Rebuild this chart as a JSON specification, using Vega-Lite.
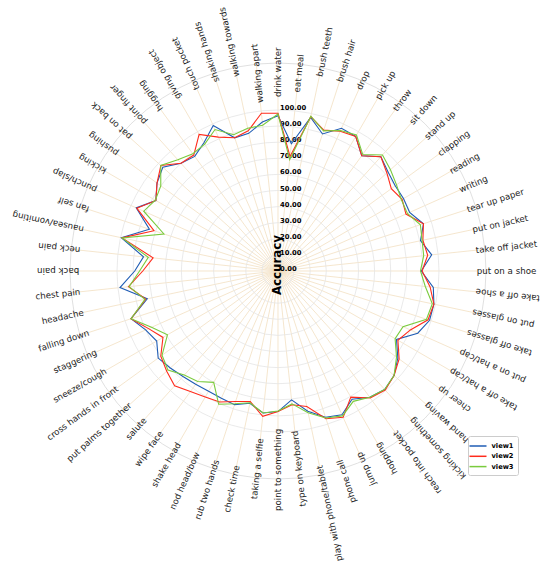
{
  "$schema": "https://vega.github.io/schema/vega-lite/v6.json",
  "description": "Per-action accuracy radar, three views",
  "width": 416,
  "height": 416,
  "autosize": {"type": "none"},
  "padding": {"left": 70, "top": 63, "right": 64, "bottom": 97},
  "background": "white",
  "config": {"view": {"stroke": null}, "font": "DejaVu Sans"},
  "datasets": {
    "acc": [
      {"action": "drink water", "view1": 96.5, "view2": 98.0, "view3": 97.5},
      {"action": "eat meal", "view1": 79.5, "view2": 71.5, "view3": 69.5},
      {"action": "brush teeth", "view1": 97.5, "view2": 98.0, "view3": 98.3},
      {"action": "brush hair", "view1": 89.5, "view2": 92.0, "view3": 91.5},
      {"action": "drop", "view1": 97.0, "view2": 95.0, "view3": 95.5},
      {"action": "pick up", "view1": 96.5, "view2": 96.5, "view3": 97.5},
      {"action": "throw", "view1": 88.5, "view2": 88.5, "view3": 89.5},
      {"action": "sit down", "view1": 95.5, "view2": 95.5, "view3": 97.0},
      {"action": "stand up", "view1": 92.0, "view2": 91.0, "view3": 94.0},
      {"action": "clapping", "view1": 90.0, "view2": 87.0, "view3": 91.0},
      {"action": "reading", "view1": 90.0, "view2": 89.0, "view3": 88.5},
      {"action": "writing", "view1": 89.5, "view2": 87.0, "view3": 88.0},
      {"action": "tear up paper", "view1": 95.0, "view2": 95.0, "view3": 93.0},
      {"action": "put on jacket", "view1": 90.5, "view2": 92.0, "view3": 91.5},
      {"action": "take off jacket", "view1": 96.0, "view2": 93.5, "view3": 91.0},
      {"action": "put on a shoe", "view1": 89.0, "view2": 89.5, "view3": 88.5},
      {"action": "take off a shoe", "view1": 97.0, "view2": 95.0, "view3": 92.0},
      {"action": "put on glasses", "view1": 99.0, "view2": 99.0, "view3": 98.0},
      {"action": "take off glasses", "view1": 99.0, "view2": 98.0, "view3": 97.0},
      {"action": "put on a hat/cap", "view1": 95.0, "view2": 90.0, "view3": 85.0},
      {"action": "take off a hat/cap", "view1": 85.0, "view2": 86.0, "view3": 84.0},
      {"action": "cheer up", "view1": 92.0, "view2": 93.0, "view3": 91.0},
      {"action": "hand waving", "view1": 97.0, "view2": 97.0, "view3": 97.0},
      {"action": "kicking something", "view1": 99.0, "view2": 99.5, "view3": 99.0},
      {"action": "reach into pocket", "view1": 97.0, "view2": 97.5, "view3": 97.0},
      {"action": "hopping", "view1": 92.0, "view2": 90.5, "view3": 93.5},
      {"action": "jump up", "view1": 97.7, "view2": 99.5, "view3": 98.5},
      {"action": "phone call", "view1": 95.5, "view2": 96.5, "view3": 96.0},
      {"action": "play with phone/tablet", "view1": 89.0, "view2": 86.0, "view3": 90.0},
      {"action": "type on keyboard", "view1": 80.5, "view2": 83.5, "view3": 83.0},
      {"action": "point to something", "view1": 87.3, "view2": 87.3, "view3": 87.0},
      {"action": "taking a selfie", "view1": 88.7, "view2": 90.8, "view3": 88.7},
      {"action": "check time", "view1": 84.0, "view2": 82.9, "view3": 83.7},
      {"action": "rub two hands", "view1": 87.3, "view2": 85.2, "view3": 86.7},
      {"action": "nod head/bow", "view1": 86.5, "view2": 89.1, "view3": 90.6},
      {"action": "shake head", "view1": 86.2, "view2": 90.4, "view3": 79.9},
      {"action": "wipe face", "view1": 87.0, "view2": 92.6, "view3": 84.8},
      {"action": "salute", "view1": 88.2, "view2": 96.0, "view3": 87.0},
      {"action": "put palms together", "view1": 90.0, "view2": 93.0, "view3": 92.0},
      {"action": "cross hands in front", "view1": 92.0, "view2": 90.0, "view3": 89.0},
      {"action": "sneeze/cough", "view1": 87.0, "view2": 82.5, "view3": 79.3},
      {"action": "staggering", "view1": 90.0, "view2": 88.0, "view3": 86.0},
      {"action": "falling down", "view1": 96.0, "view2": 96.0, "view3": 96.0},
      {"action": "headache", "view1": 83.0, "view2": 84.0, "view3": 84.5},
      {"action": "chest pain", "view1": 98.7, "view2": 93.4, "view3": 93.0},
      {"action": "back pain", "view1": 89.0, "view2": 84.0, "view3": 86.0},
      {"action": "neck pain", "view1": 84.0, "view2": 78.0, "view3": 81.0},
      {"action": "nausea/vomiting", "view1": 99.5, "view2": 99.0, "view3": 99.0},
      {"action": "fan self", "view1": 84.0, "view2": 81.0, "view3": 74.5},
      {"action": "punch/slap", "view1": 96.4, "view2": 96.0, "view3": 91.3},
      {"action": "kicking", "view1": 87.6, "view2": 87.6, "view3": 88.0},
      {"action": "pushing", "view1": 92.9, "view2": 92.9, "view3": 90.0},
      {"action": "pat on back", "view1": 96.3, "view2": 97.9, "view3": 98.0},
      {"action": "point finger", "view1": 90.0, "view2": 90.0, "view3": 93.0},
      {"action": "hugging", "view1": 88.0, "view2": 89.0, "view3": 90.0},
      {"action": "giving object", "view1": 92.0, "view2": 98.0, "view3": 91.0},
      {"action": "touch pocket", "view1": 98.9, "view2": 91.0, "view3": 96.2},
      {"action": "shaking hands", "view1": 87.0, "view2": 87.0, "view3": 89.0},
      {"action": "walking towards", "view1": 87.4, "view2": 89.0, "view3": 90.6},
      {"action": "walking apart", "view1": 93.0, "view2": 98.5, "view3": 91.0}
    ],
    "ticks": [
      {"r": 0}, {"r": 10}, {"r": 20}, {"r": 30}, {"r": 40}, {"r": 50},
      {"r": 60}, {"r": 70}, {"r": 80}, {"r": 90}, {"r": 100}
    ]
  },
  "layer": [
    {
      "data": {"name": "acc"},
      "transform": [
        {"window": [{"op": "row_number", "as": "idx"}]},
        {"calculate": "(datum.idx - 1) * 2 * PI / 60", "as": "th"},
        {"calculate": "129.2 * sin(datum.th)", "as": "sx"},
        {"calculate": "129.2 * cos(datum.th)", "as": "sy"}
      ],
      "mark": {"type": "rule", "color": "#f0dbb9", "strokeWidth": 0.7},
      "encoding": {
        "x": {"field": "sx", "type": "quantitative", "scale": {"domain": [-129.2, 129.2], "nice": false, "zero": false}, "axis": null},
        "y": {"field": "sy", "type": "quantitative", "scale": {"domain": [-129.2, 129.2], "nice": false, "zero": false}, "axis": null},
        "x2": {"datum": 0},
        "y2": {"datum": 0}
      }
    },
    {
      "data": {"name": "ticks"},
      "transform": [{"filter": "datum.r > 0"}],
      "mark": {"type": "point", "shape": "circle", "filled": false, "stroke": "#e4e4e4", "strokeWidth": 0.8, "opacity": 1},
      "encoding": {
        "x": {"datum": 0, "type": "quantitative", "scale": {"domain": [-129.2, 129.2], "nice": false, "zero": false}, "axis": null},
        "y": {"datum": 0, "type": "quantitative", "scale": {"domain": [-129.2, 129.2], "nice": false, "zero": false}, "axis": null},
        "size": {"field": "r", "type": "quantitative", "scale": {"type": "pow", "exponent": 2, "domain": [0, 129.2], "range": [0, 173056], "zero": true}, "legend": null}
      }
    },
    {
      "data": {"values": [{"edge": 129.2}]},
      "mark": {"type": "point", "shape": "circle", "filled": false, "stroke": "#dcdcdc", "strokeWidth": 0.9, "opacity": 1},
      "encoding": {
        "x": {"datum": 0, "type": "quantitative", "scale": {"domain": [-129.2, 129.2], "nice": false, "zero": false}, "axis": null},
        "y": {"datum": 0, "type": "quantitative", "scale": {"domain": [-129.2, 129.2], "nice": false, "zero": false}, "axis": null},
        "size": {"field": "edge", "type": "quantitative", "scale": {"type": "pow", "exponent": 2, "domain": [0, 129.2], "range": [0, 173056], "zero": true}, "legend": null}
      }
    },
    {
      "data": {"name": "ticks"},
      "mark": {"type": "text", "align": "left", "baseline": "middle", "dx": 2, "dy": -2, "font": "DejaVu Sans", "fontWeight": "bold", "fontSize": 6.8, "color": "#000000"},
      "encoding": {
        "x": {"datum": 0, "type": "quantitative", "scale": {"domain": [-129.2, 129.2], "nice": false, "zero": false}, "axis": null},
        "y": {"field": "r", "type": "quantitative", "scale": {"domain": [-129.2, 129.2], "nice": false, "zero": false}, "axis": null},
        "text": {"field": "r", "type": "quantitative", "format": ".2f"}
      }
    },
    {
      "data": {"values": [{"label": "Accuracy"}]},
      "mark": {"type": "text", "align": "center", "baseline": "middle", "angle": 270, "font": "DejaVu Sans", "fontWeight": "bold", "fontSize": 11.8, "color": "#000000"},
      "encoding": {
        "x": {"datum": -0.6, "type": "quantitative", "scale": {"domain": [-129.2, 129.2], "nice": false, "zero": false}, "axis": null},
        "y": {"datum": 3.7, "type": "quantitative", "scale": {"domain": [-129.2, 129.2], "nice": false, "zero": false}, "axis": null},
        "text": {"field": "label", "type": "nominal"}
      }
    },
    {
      "data": {"name": "acc"},
      "transform": [
        {"window": [{"op": "row_number", "as": "idx"}]},
        {"calculate": "(datum.idx - 1) * 2 * PI / 60", "as": "th"},
        {"fold": ["view1", "view2", "view3"], "as": ["view", "acc"]},
        {"calculate": "datum.acc * sin(datum.th)", "as": "px"},
        {"calculate": "datum.acc * cos(datum.th)", "as": "py"}
      ],
      "mark": {"type": "line", "interpolate": "linear-closed", "strokeWidth": 1.1},
      "encoding": {
        "x": {"field": "px", "type": "quantitative", "scale": {"domain": [-129.2, 129.2], "nice": false, "zero": false}, "axis": null},
        "y": {"field": "py", "type": "quantitative", "scale": {"domain": [-129.2, 129.2], "nice": false, "zero": false}, "axis": null},
        "order": {"field": "idx", "type": "quantitative"},
        "color": {
          "field": "view",
          "type": "nominal",
          "scale": {"domain": ["view1", "view2", "view3"], "range": ["#1f5cb4", "#ff2b1c", "#7acb3e"]},
          "legend": {
            "title": null,
            "orient": "none",
            "legendX": 398,
            "legendY": 373,
            "symbolType": "M-1.7,0H1.7",
            "symbolSize": 100,
            "symbolStrokeWidth": 1.5,
            "labelFont": "DejaVu Sans",
            "labelFontWeight": "bold",
            "labelFontSize": 6.7,
            "labelColor": "#000000",
            "labelOffset": 7.5,
            "rowPadding": 0.3,
            "padding": 4,
            "strokeColor": "#cccccc",
            "fillColor": "rgba(255,255,255,0.85)",
            "cornerRadius": 2
          }
        }
      }
    },
    {
      "data": {"name": "acc"},
      "transform": [
        {"window": [{"op": "row_number", "as": "idx"}]},
        {"calculate": "datum.idx - 1", "as": "k"},
        {"filter": "datum.k == 0 || datum.k == 1 || datum.k == 59 || datum.k == 29 || datum.k == 30 || datum.k == 31"},
        {"calculate": "datum.k * 2 * PI / 60", "as": "th"},
        {"calculate": "123.5 * sin(datum.th)", "as": "lx"},
        {"calculate": "123.5 * cos(datum.th)", "as": "ly"},
        {"calculate": "(datum.k <= 15 || datum.k >= 45) ? datum.k * 6 - 90 : datum.k * 6 + 90", "as": "rot"}
      ],
      "mark": {"type": "text", "align": "center", "baseline": "middle", "font": "DejaVu Sans", "fontSize": 8.7, "color": "#222222"},
      "encoding": {
        "x": {"field": "lx", "type": "quantitative", "scale": {"domain": [-129.2, 129.2], "nice": false, "zero": false}, "axis": null},
        "y": {"field": "ly", "type": "quantitative", "scale": {"domain": [-129.2, 129.2], "nice": false, "zero": false}, "axis": null},
        "angle": {"field": "rot", "type": "quantitative", "scale": null},
        "text": {"field": "action", "type": "nominal"}
      }
    },
    {
      "data": {"name": "acc"},
      "transform": [
        {"window": [{"op": "row_number", "as": "idx"}]},
        {"calculate": "datum.idx - 1", "as": "k"},
        {"filter": "!(datum.k == 0 || datum.k == 1 || datum.k == 59 || datum.k == 29 || datum.k == 30 || datum.k == 31) && (datum.k <= 15 || datum.k >= 45)"},
        {"calculate": "datum.k * 2 * PI / 60", "as": "th"},
        {"calculate": "123.5 * sin(datum.th)", "as": "lx"},
        {"calculate": "123.5 * cos(datum.th)", "as": "ly"},
        {"calculate": "datum.k * 6 - 90", "as": "rot"}
      ],
      "mark": {"type": "text", "align": "left", "baseline": "middle", "font": "DejaVu Sans", "fontSize": 8.7, "color": "#222222"},
      "encoding": {
        "x": {"field": "lx", "type": "quantitative", "scale": {"domain": [-129.2, 129.2], "nice": false, "zero": false}, "axis": null},
        "y": {"field": "ly", "type": "quantitative", "scale": {"domain": [-129.2, 129.2], "nice": false, "zero": false}, "axis": null},
        "angle": {"field": "rot", "type": "quantitative", "scale": null},
        "text": {"field": "action", "type": "nominal"}
      }
    },
    {
      "data": {"name": "acc"},
      "transform": [
        {"window": [{"op": "row_number", "as": "idx"}]},
        {"calculate": "datum.idx - 1", "as": "k"},
        {"filter": "!(datum.k == 0 || datum.k == 1 || datum.k == 59 || datum.k == 29 || datum.k == 30 || datum.k == 31) && datum.k > 15 && datum.k < 45"},
        {"calculate": "datum.k * 2 * PI / 60", "as": "th"},
        {"calculate": "123.5 * sin(datum.th)", "as": "lx"},
        {"calculate": "123.5 * cos(datum.th)", "as": "ly"},
        {"calculate": "datum.k * 6 + 90", "as": "rot"}
      ],
      "mark": {"type": "text", "align": "right", "baseline": "middle", "font": "DejaVu Sans", "fontSize": 8.7, "color": "#222222"},
      "encoding": {
        "x": {"field": "lx", "type": "quantitative", "scale": {"domain": [-129.2, 129.2], "nice": false, "zero": false}, "axis": null},
        "y": {"field": "ly", "type": "quantitative", "scale": {"domain": [-129.2, 129.2], "nice": false, "zero": false}, "axis": null},
        "angle": {"field": "rot", "type": "quantitative", "scale": null},
        "text": {"field": "action", "type": "nominal"}
      }
    }
  ]
}
